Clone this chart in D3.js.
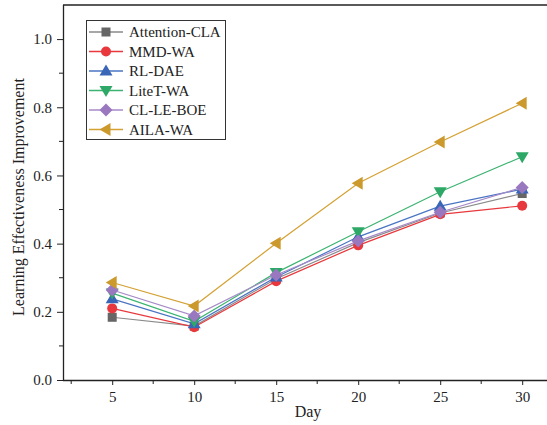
<!DOCTYPE html>
<html><head><meta charset="utf-8">
<script src="https://cdn.jsdelivr.net/npm/d3@7"></script>
<style>body{margin:0;background:#fff}svg{display:block}text{font-family:"Liberation Serif","Times New Roman",serif;fill:#222}</style>
</head><body><div id="c"></div>
<script>
const days = [5, 10, 15, 20, 25, 30];
const seriesNames = ["Attention-CLA", "MMD-WA", "RL-DAE", "LiteT-WA", "CL-LE-BOE", "AILA-WA"];
const attentionCLA = [0.184, 0.158, 0.297, 0.403, 0.490, 0.547];
const mmdWA        = [0.210, 0.155, 0.290, 0.395, 0.486, 0.511];
const rlDAE        = [0.238, 0.165, 0.302, 0.420, 0.510, 0.560];
const liteTWA      = [0.255, 0.172, 0.315, 0.435, 0.552, 0.655];
const clLEBOE      = [0.264, 0.188, 0.308, 0.408, 0.492, 0.565];
const ailaWA       = [0.286, 0.217, 0.401, 0.577, 0.698, 0.812];
const yTicks = [0.0, 0.2, 0.4, 0.6, 0.8, 1.0];
const xTicks = [5, 10, 15, 20, 25, 30];

const values = [attentionCLA, mmdWA, rlDAE, liteTWA, clLEBOE, ailaWA];
const lineColors = ["#8a8a8a", "#e8383d", "#4a74c4", "#3cb371", "#a68ac8", "#d4a134"];
const markColors = ["#666666", "#e8383d", "#3a66b8", "#2ea866", "#9a78bf", "#cc9a2c"];
const symbols = ["square", "circle", "triUp", "triDown", "diamond", "triLeft"];

const W = 547, H = 425;
const L = 63, T = 5, B = 380;
const svg = d3.select("#c").append("svg").attr("width", W).attr("height", H);

const x = d3.scaleLinear().domain([2, 32]).range([L, L + 30 * 16.4]);
const y = d3.scaleLinear().domain([0, 1.1]).range([B, T]);

// frame top line
svg.append("line").attr("x1", L).attr("x2", W).attr("y1", T).attr("y2", T)
  .attr("stroke", "#222").attr("stroke-width", 1.3);

// x axis
const xAxis = d3.axisBottom(x).tickValues(xTicks).tickSize(5).tickPadding(6).tickFormat(d3.format("d"));
const gx = svg.append("g").attr("transform", `translate(0,${B})`).call(xAxis);
gx.select(".domain").attr("d", `M${L},0.5H${W}`).attr("stroke", "#222").attr("stroke-width", 1.3);
const xMinor = [2.5, 7.5, 12.5, 17.5, 22.5, 27.5];
gx.selectAll(".minor").data(xMinor).enter().append("line").attr("class", "minor")
  .attr("x1", d => x(d)).attr("x2", d => x(d)).attr("y1", 0).attr("y2", 4).attr("stroke", "#222");
gx.selectAll(".tick line").attr("stroke", "#222");
gx.selectAll("text").attr("font-size", 15).attr("fill", "#222").style("font-family", "Liberation Serif, serif");

// y axis
const yAxis = d3.axisLeft(y).tickValues(yTicks).tickSize(6).tickPadding(5).tickFormat(d3.format(".1f"));
const gy = svg.append("g").attr("transform", `translate(${L},0)`).call(yAxis);
gy.select(".domain").attr("d", `M0.5,${B}V${T}`).attr("stroke", "#222").attr("stroke-width", 1.3);
const yMinor = [0.1, 0.3, 0.5, 0.7, 0.9];
gy.selectAll(".minor").data(yMinor).enter().append("line").attr("class", "minor")
  .attr("x1", 0).attr("x2", -4).attr("y1", d => y(d)).attr("y2", d => y(d)).attr("stroke", "#222");
gy.selectAll(".tick line").attr("stroke", "#222");
gy.selectAll("text").attr("font-size", 15).attr("fill", "#222").style("font-family", "Liberation Serif, serif");

svg.append("text").attr("x", 308).attr("y", 417).attr("text-anchor", "middle").attr("font-size", 16).text("Day");
svg.append("text").attr("transform", `translate(24,197) rotate(-90)`).attr("text-anchor", "middle")
  .attr("font-size", 16).text("Learning Effectiveness Improvement");

function drawMarker(g, sym, cx, cy, color) {
  let s;
  if (sym === "square") s = g.append("rect").attr("x", cx - 4.5).attr("y", cy - 4.5).attr("width", 9).attr("height", 9);
  else if (sym === "circle") s = g.append("circle").attr("cx", cx).attr("cy", cy).attr("r", 5);
  else if (sym === "triUp") s = g.append("path").attr("d", `M${cx},${cy - 6.5}L${cx + 6.5},${cy + 4.5}L${cx - 6.5},${cy + 4.5}Z`);
  else if (sym === "triDown") s = g.append("path").attr("d", `M${cx},${cy + 6.5}L${cx + 6.5},${cy - 4.5}L${cx - 6.5},${cy - 4.5}Z`);
  else if (sym === "diamond") s = g.append("path").attr("d", `M${cx},${cy - 6.5}L${cx + 6.5},${cy}L${cx},${cy + 6.5}L${cx - 6.5},${cy}Z`);
  else s = g.append("path").attr("d", `M${cx - 6.5},${cy}L${cx + 4.5},${cy - 6.5}L${cx + 4.5},${cy + 6.5}Z`);
  s.attr("fill", color);
}

const line = d3.line().x((d, i) => x(days[i])).y(d => y(d));
values.forEach((vals, k) => {
  const g = svg.append("g");
  g.append("path").attr("d", line(vals)).attr("fill", "none").attr("stroke", lineColors[k]).attr("stroke-width", 1.2);
  vals.forEach((v, i) => drawMarker(g, symbols[k], x(days[i]), y(v), markColors[k]));
});

// legend
const lg = svg.append("g");
lg.append("rect").attr("x", 86.5).attr("y", 20.5).attr("width", 139).attr("height", 119)
  .attr("fill", "#fff").attr("stroke", "#333").attr("stroke-width", 1);
seriesNames.forEach((name, k) => {
  const yy = 32 + k * 19.5;
  lg.append("line").attr("x1", 89).attr("x2", 123).attr("y1", yy).attr("y2", yy)
    .attr("stroke", lineColors[k]).attr("stroke-width", 1.5);
  drawMarker(lg, symbols[k], 106, yy, markColors[k]);
  lg.append("text").attr("x", 129).attr("y", yy + 5).attr("font-size", 15).text(name);
});
</script></body></html>
